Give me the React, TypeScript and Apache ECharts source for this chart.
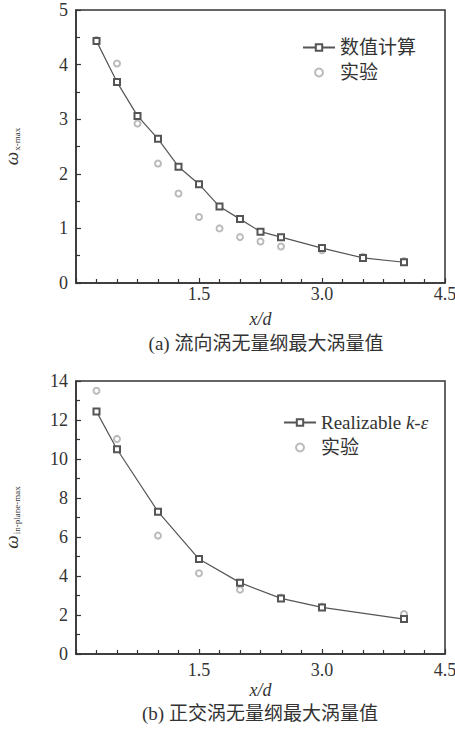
import React, { useEffect, useRef } from "react";
import * as echarts from "echarts";

// (a) streamwise vortex: dimensionless peak vorticity vs x/d
const xA = [0.25, 0.5, 0.75, 1.0, 1.25, 1.5, 1.75, 2.0, 2.25, 2.5, 3.0, 3.5, 4.0];
const calcA = [4.43, 3.68, 3.06, 2.64, 2.13, 1.81, 1.40, 1.17, 0.94, 0.84, 0.64, 0.46, 0.38];
const expA = [4.45, 4.02, 2.92, 2.19, 1.64, 1.21, 1.0, 0.84, 0.76, 0.67, 0.6, 0.48, 0.4];

// (b) in-plane vortex: dimensionless peak vorticity vs x/d
const xB = [0.25, 0.5, 1.0, 1.5, 2.0, 2.5, 3.0, 4.0];
const calcB = [12.43, 10.5, 7.3, 4.87, 3.66, 2.85, 2.39, 1.79];
const expB = [13.5, 11.03, 6.07, 4.14, 3.3, 2.89, 2.43, 2.05];

const xTicks = { min: 0, max: 4.5, interval: 1.5 };
const yTicksA = { min: 0, max: 5, interval: 1 };
const yTicksB = { min: 0, max: 14, interval: 2 };

const SERIF = "Liberation Serif, DejaVu Serif, Noto Sans CJK SC, serif";
const INK = "#333333";
const LINE = "#555555";
const EXP = "#aaaaaa";

const pairs = (xs: number[], ys: number[]) => xs.map((x, i) => [x, ys[i]]);

export default function App() {
  const ref = useRef<HTMLDivElement>(null);

  useEffect(() => {
    if (!ref.current) return;
    const chart = echarts.init(ref.current, null, { renderer: "svg" });

    const xAxisBase = (gridIndex: number, margin: number, nameGap: number) => ({
      type: "value",
      gridIndex,
      min: xTicks.min,
      max: xTicks.max,
      interval: xTicks.interval,
      name: "x/d",
      nameLocation: "middle",
      nameGap,
      nameTextStyle: { fontFamily: SERIF, fontStyle: "italic", fontSize: 18, color: INK },
      axisLine: { show: true, lineStyle: { color: INK, width: 1.5 } },
      axisTick: { show: true, inside: true, length: 5, lineStyle: { color: INK, width: 1.2 } },
      minorTick: { show: true, splitNumber: 6, length: 4, lineStyle: { color: INK, width: 1.2 } },
      splitLine: { show: false },
      axisLabel: {
        margin,
        fontFamily: SERIF,
        fontSize: 18,
        color: INK,
        formatter: (v: number) => (v === 0 ? "" : v.toFixed(1)),
      },
    });

    const yAxisBase = (gridIndex: number, t: any, nameKey: string, nameGap: number) => ({
      type: "value",
      gridIndex,
      min: t.min,
      max: t.max,
      interval: t.interval,
      name: `{w|ω}{s|${nameKey}}`,
      nameLocation: "middle",
      nameGap,
      nameRotate: 90,
      nameTextStyle: {
        color: INK,
        rich: {
          w: { fontFamily: SERIF, fontStyle: "italic", fontSize: 19, color: INK },
          s: { fontFamily: SERIF, fontSize: 9, color: INK, verticalAlign: "bottom", padding: [8, 0, 0, 1] },
        },
      },
      axisLine: { show: true, lineStyle: { color: INK, width: 1.5 } },
      axisTick: { show: true, inside: true, length: 5, lineStyle: { color: INK, width: 1.2 } },
      minorTick: { show: true, splitNumber: 2, length: 4, lineStyle: { color: INK, width: 1.2 } },
      splitLine: { show: false },
      axisLabel: { margin: 8, fontFamily: SERIF, fontSize: 18, color: INK },
    });

    const calcSeries = (name: string, idx: number, xs: number[], ys: number[]) => ({
      name,
      type: "line",
      xAxisIndex: idx,
      yAxisIndex: idx,
      data: pairs(xs, ys),
      symbol: "emptyRect",
      symbolSize: 6,
      showAllSymbol: true,
      lineStyle: { color: LINE, width: 1.2 },
      itemStyle: { color: LINE, borderColor: LINE, borderWidth: 1 },
      z: 3,
    });

    const expSeries = (idx: number, xs: number[], ys: number[]) => ({
      name: "实验",
      type: "scatter",
      xAxisIndex: idx,
      yAxisIndex: idx,
      data: pairs(xs, ys),
      symbol: "emptyCircle",
      symbolSize: 6,
      itemStyle: { color: EXP, borderColor: EXP, borderWidth: 1.1 },
      z: 2,
    });

    const legendText = {
      fontFamily: SERIF,
      fontSize: 19,
      color: INK,
      rich: {
        n: { fontFamily: SERIF, fontSize: 19, color: INK },
        i: { fontFamily: SERIF, fontSize: 19, fontStyle: "italic", color: INK },
      },
    };

    const gridBase = {
      left: 76,
      width: 369,
      height: 273,
      show: true,
      borderColor: INK,
      borderWidth: 1.5,
      backgroundColor: "transparent",
      containLabel: false,
      outerBoundsMode: "none",
    };

    chart.setOption({
      animation: false,
      backgroundColor: "#ffffff",
      grid: [
        { ...gridBase, top: 10 },
        { ...gridBase, top: 381 },
      ],
      xAxis: [xAxisBase(0, 2, 27), xAxisBase(1, 7, 27)],
      yAxis: [yAxisBase(0, yTicksA, "x-max", 55), yAxisBase(1, yTicksB, "in-plane-max", 55)],
      legend: [
        {
          orient: "vertical",
          left: 297,
          top: 33,
          itemWidth: 32,
          itemHeight: 8,
          itemGap: 6,
          textStyle: legendText,
          data: ["数值计算", "实验"],
        },
        {
          orient: "vertical",
          left: 278,
          top: 408,
          itemWidth: 32,
          itemHeight: 8,
          itemGap: 6,
          textStyle: legendText,
          data: ["Realizable k-ε", "实验"],
          formatter: (name: string) => (name === "Realizable k-ε" ? "{n|Realizable }{i|k-ε}" : name),
        },
      ],
      graphic: [
        {
          type: "text",
          x: 266,
          y: 343,
          style: {
            text: "(a) 流向涡无量纲最大涡量值",
            fontFamily: SERIF,
            fontSize: 19,
            fill: INK,
            align: "center",
            verticalAlign: "middle",
          },
        },
        {
          type: "text",
          x: 260,
          y: 713,
          style: {
            text: "(b) 正交涡无量纲最大涡量值",
            fontFamily: SERIF,
            fontSize: 19,
            fill: INK,
            align: "center",
            verticalAlign: "middle",
          },
        },
      ],
      series: [
        expSeries(0, xA, expA),
        calcSeries("数值计算", 0, xA, calcA),
        expSeries(1, xB, expB),
        calcSeries("Realizable k-ε", 1, xB, calcB),
      ],
    });

    return () => chart.dispose();
  }, []);

  return (
    <div
      ref={ref}
      style={{ position: "fixed", left: 0, top: 0, width: 455, height: 733, background: "#fff" }}
    />
  );
}
